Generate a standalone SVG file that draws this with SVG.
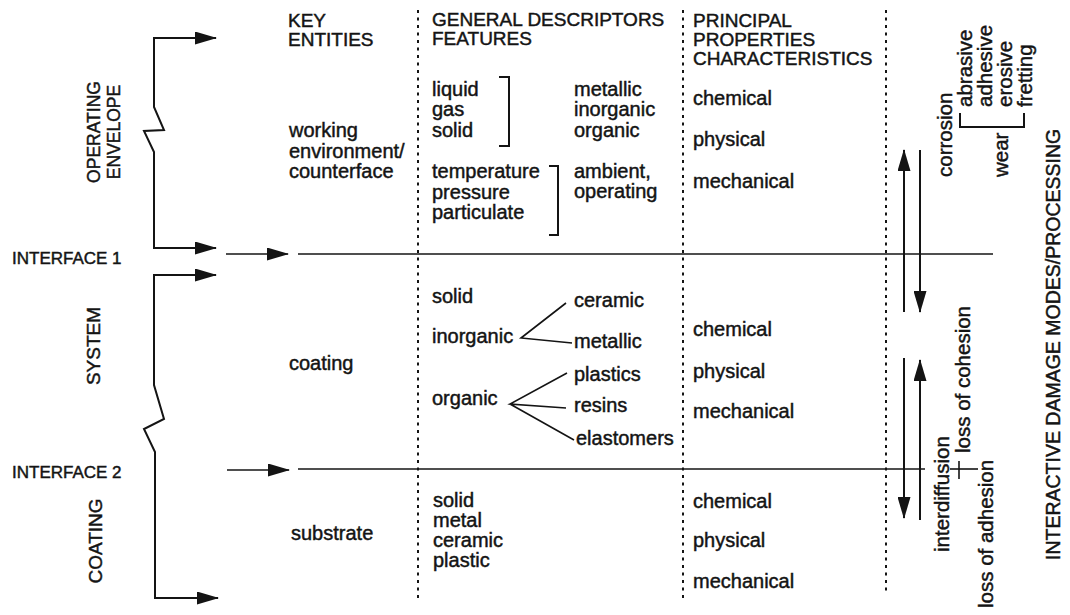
<svg xmlns="http://www.w3.org/2000/svg" width="1070" height="615" viewBox="0 0 1070 615">
<style>
text { font-family: "Liberation Sans", Arial, Helvetica, sans-serif; fill: #141414; stroke: #141414; stroke-width: 0.45px; }
.b { font-size: 20px; }
.h { font-size: 19px; }
.lbl { font-size: 17px; }
.vl { font-size: 19px; }
.rv { font-size: 20.5px; }
.ln { stroke: #141414; stroke-width: 2; fill: none; }
.thin { stroke: #141414; stroke-width: 1.6; fill: none; }
.dot { stroke: #141414; stroke-width: 2; stroke-dasharray: 3 4.5; fill: none; }
</style>
<defs>
<marker id="ah" markerUnits="userSpaceOnUse" viewBox="0 0 22 13" markerWidth="22" markerHeight="13" refX="21" refY="6.5" orient="auto">
<path d="M0,0 L22,6.5 L0,13 z" fill="#141414"/>
</marker>
</defs>
<rect width="1070" height="615" fill="#ffffff"/>

<g id="connectors">
<line class="dot" x1="418" y1="10" x2="418" y2="598"/>
<line class="dot" x1="683" y1="10" x2="683" y2="598"/>
<line class="dot" x1="886" y1="10" x2="886" y2="594"/>
<path class="ln" d="M216,38 H154 V107 L164,130 L144,131 L154,152 V248 H216" marker-end="url(#ah)"/>
<path class="ln" d="M154,38 H216" marker-end="url(#ah)"/>
<path class="ln" d="M216,275 H154 V385 L164,419 L144,429 L155,452 V598 H218" marker-end="url(#ah)"/>
<path class="ln" d="M155,275 H216" marker-end="url(#ah)"/>
<line class="thin" x1="226" y1="254" x2="288" y2="254" marker-end="url(#ah)"/>
<line class="thin" x1="298" y1="254" x2="993" y2="254"/>
<line class="thin" x1="227" y1="470" x2="289" y2="470" marker-end="url(#ah)"/>
<line class="thin" x1="298" y1="469" x2="925" y2="469"/>
<line class="thin" x1="950" y1="469" x2="978" y2="469"/>
<line class="thin" x1="959" y1="461" x2="959" y2="479"/>
<line class="ln" x1="904" y1="312" x2="904" y2="150" marker-end="url(#ah)"/>
<line class="ln" x1="920" y1="150" x2="920" y2="312" marker-end="url(#ah)"/>
<line class="ln" x1="904" y1="358" x2="904" y2="518" marker-end="url(#ah)"/>
<line class="ln" x1="920" y1="520" x2="920" y2="360" marker-end="url(#ah)"/>
<path class="ln" d="M499,77 H509 V146 H499"/>
<path class="ln" d="M549,166 H558 V235 H549"/>
<path class="ln" d="M960,113 V127 H1024 V113"/>
<path class="thin" d="M566,303 L521,338 L572,343"/>
<path class="thin" d="M567,373 L510,404 L566,408 M510,404 L574,440"/>
</g>

<g id="left-labels">
<text class="vl" style="font-size:17.5px" text-anchor="middle" transform="translate(100,132) rotate(-90)">OPERATING</text>
<text class="vl" style="font-size:17.5px" text-anchor="middle" transform="translate(120,132) rotate(-90)">ENVELOPE</text>
<text class="vl" text-anchor="middle" transform="translate(100,346) rotate(-90)">SYSTEM</text>
<text class="vl" text-anchor="middle" transform="translate(102,541) rotate(-90)">COATING</text>
<text class="lbl" x="12" y="264">INTERFACE 1</text>
<text class="lbl" x="12" y="478">INTERFACE 2</text>
</g>

<g id="key-entities">
<text class="h" x="288" y="27">KEY</text>
<text class="h" x="288" y="46">ENTITIES</text>
<text class="b" x="289" y="137">working</text>
<text class="b" x="289" y="158">environment/</text>
<text class="b" x="289" y="178">counterface</text>
<text class="b" x="289" y="370">coating</text>
<text class="b" x="291" y="540">substrate</text>
</g>

<g id="general-descriptors">
<text class="h" x="432" y="26">GENERAL DESCRIPTORS</text>
<text class="h" x="432" y="45">FEATURES</text>
<text class="b" x="432" y="96">liquid</text>
<text class="b" x="432" y="116">gas</text>
<text class="b" x="432" y="137">solid</text>
<text class="b" x="574" y="96">metallic</text>
<text class="b" x="574" y="116">inorganic</text>
<text class="b" x="574" y="137">organic</text>
<text class="b" x="432" y="178">temperature</text>
<text class="b" x="432" y="199">pressure</text>
<text class="b" x="432" y="219">particulate</text>
<text class="b" x="574" y="178">ambient,</text>
<text class="b" x="574" y="198">operating</text>
<text class="b" x="432" y="303">solid</text>
<text class="b" x="432" y="343">inorganic</text>
<text class="b" x="432" y="405">organic</text>
<text class="b" x="574" y="307">ceramic</text>
<text class="b" x="574" y="348">metallic</text>
<text class="b" x="574" y="381">plastics</text>
<text class="b" x="574" y="412">resins</text>
<text class="b" x="576" y="445">elastomers</text>
<text class="b" x="433" y="507">solid</text>
<text class="b" x="433" y="527">metal</text>
<text class="b" x="433" y="547">ceramic</text>
<text class="b" x="433" y="567">plastic</text>
</g>

<g id="principal-properties">
<text class="h" x="693" y="27">PRINCIPAL</text>
<text class="h" x="693" y="46">PROPERTIES</text>
<text class="h" x="693" y="65">CHARACTERISTICS</text>
<text class="b" x="693" y="105">chemical</text>
<text class="b" x="693" y="146">physical</text>
<text class="b" x="693" y="188">mechanical</text>
<text class="b" x="693" y="336">chemical</text>
<text class="b" x="693" y="378">physical</text>
<text class="b" x="693" y="418">mechanical</text>
<text class="b" x="693" y="508">chemical</text>
<text class="b" x="693" y="547">physical</text>
<text class="b" x="693" y="588">mechanical</text>
</g>

<g id="damage-modes">
<text class="rv" transform="translate(952,177) rotate(-90)">corrosion</text>
<text class="rv" transform="translate(972,107) rotate(-90)">abrasive</text>
<text class="rv" transform="translate(992,107) rotate(-90)">adhesive</text>
<text class="rv" transform="translate(1012,107) rotate(-90)">erosive</text>
<text class="rv" transform="translate(1032,107) rotate(-90)">fretting</text>
<text class="rv" transform="translate(1008,177) rotate(-90)">wear</text>
<text class="rv" transform="translate(970,453) rotate(-90)">loss of cohesion</text>
<text class="rv" transform="translate(949,552) rotate(-90)">interdiffusion</text>
<text class="rv" transform="translate(993,608) rotate(-90)">loss of adhesion</text>
<text style="font-size:19.5px" transform="translate(1060,560) rotate(-90)">INTERACTIVE DAMAGE MODES/PROCESSING</text>
</g>
</svg>
